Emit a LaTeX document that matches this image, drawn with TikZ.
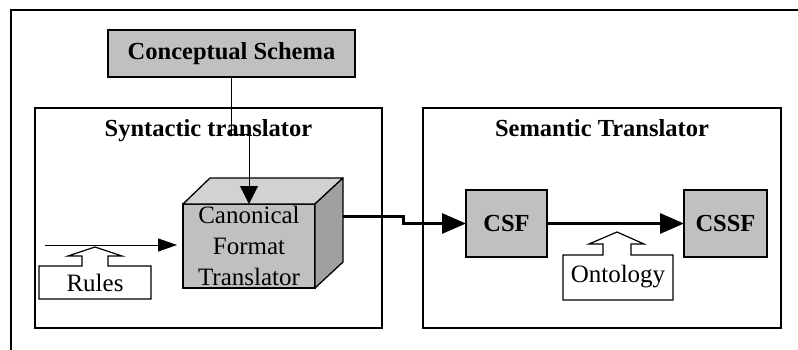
\documentclass[tikz,border=0pt]{standalone}
\usepackage{fontspec}
\setmainfont{Liberation Serif}
\usetikzlibrary{arrows.meta}

\definecolor{boxgray}{HTML}{C0C0C0}
\definecolor{topgray}{HTML}{D2D2D2}
\definecolor{sidegray}{HTML}{A0A0A0}

\tikzset{
    graybox/.style={draw, fill=boxgray, line width=1.3pt, inner sep=0pt, outer sep=0pt,
        font=\fontsize{24.5}{28}\selectfont\bfseries},
    panel/.style={draw, fill=white, line width=1.5pt, inner sep=0pt, outer sep=0pt},
    paneltitle/.style={anchor=base, font=\fontsize{24.5}{28}\selectfont\bfseries},
    plain/.style={font=\fontsize{25}{31}\selectfont},
    callout/.style={draw, fill=white, line width=1.2pt, line join=miter},
    thinarrow/.style={line width=1pt, -{Triangle[length=19pt,width=13pt]}},
    downarrow/.style={line width=1pt, -{Triangle[length=18pt,width=18pt]}},
    thickarrow/.style={line width=3pt, -{Triangle[length=24pt,width=20pt]}}
}

\begin{document}
\begin{tikzpicture}[x=1pt, y=-1pt]
    \useasboundingbox (0,0) rectangle (798,350);

    % Marco exterior (solo arriba e izquierda)
    \draw[line width=2pt] (798,10) -- (11,10) -- (11,350);

    % Paneles
    \node[panel, minimum width=347pt, minimum height=220pt] (syn) at (208.5,218) {};
    \node[paneltitle] (syntitle) at (208.5,137) {Syntactic translator};
    \node[panel, minimum width=358pt, minimum height=220pt] (sem) at (602,218) {};
    \node[paneltitle] (semtitle) at (602,137) {Semantic Translator};

    % Esquema conceptual
    \node[graybox, minimum width=247pt, minimum height=47pt] (cs) at (231.5,53.5) {Conceptual Schema};

    % Cubo: cara frontal, superior y lateral
    \node[draw, fill=boxgray, line width=1.3pt, inner sep=0pt, outer sep=0pt,
          minimum width=132pt, minimum height=84pt, align=center, plain] (cft) at (249,246)
          {Canonical\\Format\\Translator};
    \filldraw[fill=topgray, line width=1.3pt, line join=round]
        (cft.north west) -- ++(27,-26) -- ++(133,0) -- (cft.north east) -- cycle;
    \filldraw[fill=sidegray, line width=1.3pt, line join=round]
        (cft.north east) -- ++(28,-26) -- ++(0,84) -- (cft.south east) -- cycle;
    \coordinate (cubein) at (249,204);
    \coordinate (cubeout) at (343,216);

    % CSF y CSSF
    \node[graybox, minimum width=81pt, minimum height=67pt] (csf) at (506.5,223.5) {CSF};
    \node[graybox, minimum width=83pt, minimum height=67pt] (cssf) at (725.5,223.5) {CSSF};

    % Flechas
    \draw[downarrow] (cs.south) -- ++(0,58) -| (cubein);
    \coordinate (rulesin) at (45,245);
    \draw[thinarrow] (rulesin) -- ([xshift=-6pt]cft.west |- rulesin);
    \draw[thickarrow] (cubeout) -- ++(60,0) |- (csf.west);
    \draw[thickarrow] (csf) -- (cssf);

    % Rules (caja con flecha hacia arriba)
    \draw[callout] (39,266) -- (82,266) -- (82,256) -- (68,256) -- (95,247)
        -- (122,256) -- (108,256) -- (108,266) -- (151,266) -- (151,299) -- (39,299) -- cycle;
    \node[plain] (rules) at (95,283) {Rules};

    % Ontology
    \draw[callout] (563,255) -- (603,255) -- (603,244) -- (589,244) -- (617,232)
        -- (644,244) -- (631,244) -- (631,255) -- (673,255) -- (673,300) -- (563,300) -- cycle;
    \node[plain] (onto) at (618,277) {Ontology};
\end{tikzpicture}
\end{document}
